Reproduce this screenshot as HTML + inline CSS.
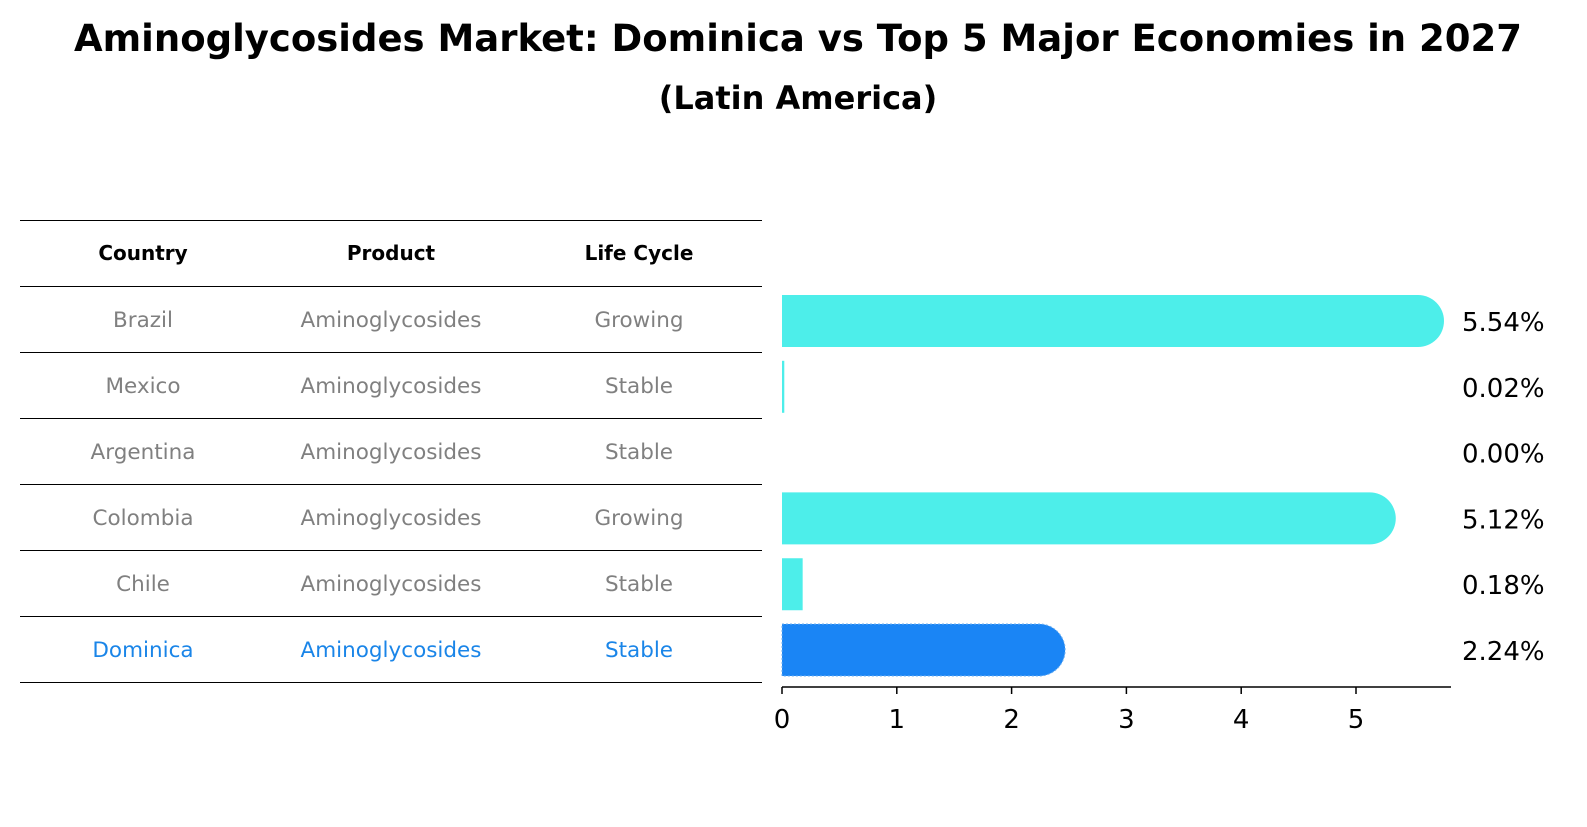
<!DOCTYPE html>
<html><head><meta charset="utf-8"><style>
body{margin:0;background:#fff;font-family:"DejaVu Sans","Liberation Sans",sans-serif;}
</style></head><body>
<svg width="1587" height="823" xmlns="http://www.w3.org/2000/svg" font-family="DejaVu Sans, Liberation Sans, sans-serif">
<text x="798" y="51" text-anchor="middle" font-size="37" font-weight="bold">Aminoglycosides Market: Dominica vs Top 5 Major Economies in 2027</text>
<text x="798" y="109" text-anchor="middle" font-size="32" font-weight="bold">(Latin America)</text>
<g id="table"></g>
<g id="bars"></g>
<g id="axis"></g>
</svg>
<script>
const countries=["Brazil","Mexico","Argentina","Colombia","Chile","Dominica"];
const products=["Aminoglycosides","Aminoglycosides","Aminoglycosides","Aminoglycosides","Aminoglycosides","Aminoglycosides"];
const lifeCycles=["Growing","Stable","Stable","Growing","Stable","Stable"];
const values=[5.54,0.02,0.00,5.12,0.18,2.24];
const valueLabels=["5.54%","0.02%","0.00%","5.12%","0.18%","2.24%"];
const xTicks=[0,1,2,3,4,5];
const NS="http://www.w3.org/2000/svg";
function mk(t,a,p){const e=document.createElementNS(NS,t);for(const k in a)e.setAttribute(k,a[k]);p.appendChild(e);return e;}
const tbl=document.getElementById('table'),bars=document.getElementById('bars'),ax=document.getElementById('axis');
const rowTop=220,rowH=66,colX=[143,391,639];
const xs=v=>782+v*114.8;
const yc=i=>321+i*65.8;
for(let i=0;i<=countries.length+1;i++){
  const l=mk('line',{x1:20,x2:762,y1:rowTop+i*rowH+0.5,y2:rowTop+i*rowH+0.5,stroke:'#000','stroke-width':1},tbl);
  
  
}
["Country","Product","Life Cycle"].forEach((h,j)=>{
  const t=mk('text',{x:colX[j],y:260,'text-anchor':'middle','font-size':20,'font-weight':'bold'},tbl);t.textContent=h;
  
  
});
countries.forEach((c,i)=>{
  const y=rowTop+rowH*(i+1)+rowH/2+8;
  const col=c==="Dominica"?"#1a85e8":"#808080";
  [c,products[i],lifeCycles[i]].forEach((s,j)=>{
    const t=mk('text',{x:colX[j],y:y,'text-anchor':'middle','font-size':21.5,fill:col},tbl);t.textContent=s;
    
    
  });
  const w=xs(values[i])-xs(0),h=52,top=yc(i)-h/2;
  const fill=c==="Dominica"?"#1a85f5":"#4deeea";
  if(w>0){
    let d;
    if(w>h){const r=h/2;d=`M${xs(0)},${top}H${xs(0)+w}A${r},${r} 0 0 1 ${xs(0)+w},${top+h}H${xs(0)}Z`;}
    else d=`M${xs(0)},${top}h${w}v${h}h${-w}Z`;
    const b=mk('path',{d:d,fill:fill},bars);
    if(c==="Dominica"){b.setAttribute('stroke','#6fb0f0');b.setAttribute('stroke-dasharray','2,2');b.setAttribute('stroke-width','1');}
    
    
  }
  const t=mk('text',{x:1462,y:yc(i)+10,'font-size':26},bars);t.textContent=valueLabels[i];
  
  
});
const al=mk('line',{x1:782,x2:1451,y1:687,y2:687,stroke:'#000','stroke-width':1.5},ax);


xTicks.forEach(v=>{
  const tk=mk('line',{x1:xs(v),x2:xs(v),y1:687,y2:694,stroke:'#000','stroke-width':1.5},ax);
  
  
  const t=mk('text',{x:xs(v),y:728,'text-anchor':'middle','font-size':26},ax);t.textContent=v;
  
  
});
</script>
</body></html>
